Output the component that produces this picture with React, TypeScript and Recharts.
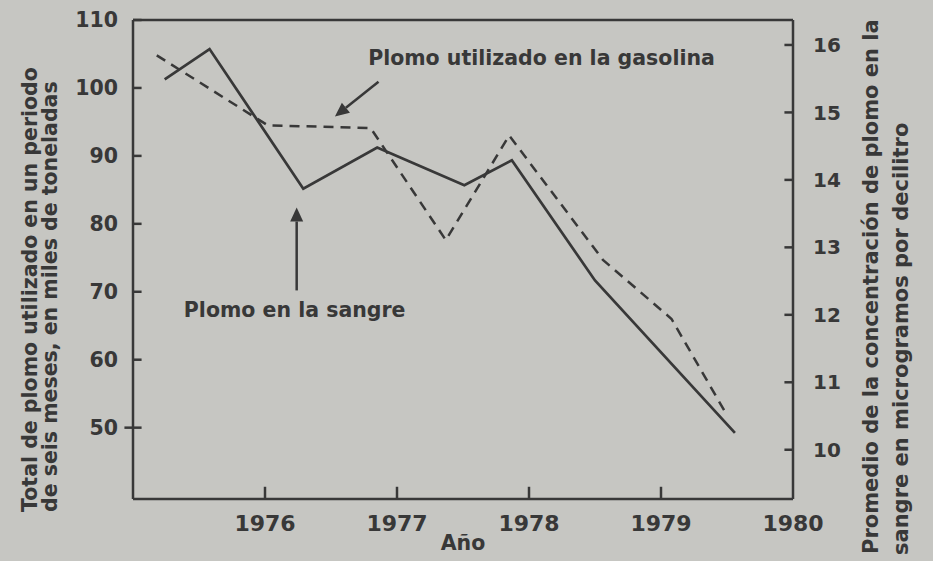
import { LineChart, Line, XAxis, YAxis, ReferenceLine } from "recharts";

// solid line: blood lead (right axis), dashed: lead in gasoline (left axis)
const bloodYears = [1975.24, 1975.58, 1976.29, 1976.85, 1977.51, 1977.87, 1978.5, 1979.56];
const bloodLevels = [15.49, 15.94, 13.87, 14.48, 13.92, 14.29, 12.51, 10.25];
const gasYears = [1975.18, 1976.02, 1976.8, 1977.37, 1977.85, 1978.56, 1979.08, 1979.48];
const gasTons = [104.8, 94.5, 94.1, 77.6, 93.0, 74.7, 66.0, 52.5];

const yearTicks = [1976, 1977, 1978, 1979, 1980];
const tonTicks = [50, 60, 70, 80, 90, 100, 110];
const levelTicks = [10, 11, 12, 13, 14, 15, 16];

const X_MIN = 1975;
const X_MAX = 1980;
const TON_MIN = 39.5;
const TON_MAX = 110;

// annotation arrows: [tail, tip] in (year, tons)
const gasArrow = [
  { x: 1976.86, y: 100.9 },
  { x: 1976.53, y: 95.8 },
];
const bloodArrow = [
  { x: 1976.24, y: 70.2 },
  { x: 1976.24, y: 82.4 },
];

const bloodData = bloodYears.map((year, i) => ({ year, level: bloodLevels[i] }));
const gasData = gasYears.map((year, i) => ({ year, tons: gasTons[i] }));

const INK = "#383838";
const PAPER = "#c6c6c2";
const FONT = "'DejaVu Sans', sans-serif";

// inward tick marks, as short segments in data units
const yTickLen = 0.065; // years
const xTickLen = 1.8; // tons

const makeArrow = (text: string, dx: number, dy: number) => (props: any) => {
  const { x1, y1, x2, y2 } = props;
  const ang = Math.atan2(y2 - y1, x2 - x1);
  const len = 14;
  const half = 6.5;
  const bx = x2 - len * Math.cos(ang);
  const by = y2 - len * Math.sin(ang);
  const px = -Math.sin(ang) * half;
  const py = Math.cos(ang) * half;
  return (
    <g>
      <line x1={x1} y1={y1} x2={bx} y2={by} stroke={INK} strokeWidth={2.5} />
      <polygon
        points={`${x2},${y2} ${bx + px},${by + py} ${bx - px},${by - py}`}
        fill={INK}
      />
      <text
        x={x1 + dx}
        y={y1 + dy}
        textAnchor="middle"
        fill={INK}
        fontFamily={FONT}
        fontWeight="bold"
        fontSize={20.5}
      >
        {text}
      </text>
    </g>
  );
};

const leftTitle = () => (
  <g fill={INK} fontFamily={FONT} fontWeight="bold" fontSize={20.5}>
    <text x={37} y={512} transform="rotate(-90 37 512)" textAnchor="start">
      Total de plomo utilizado en un periodo
    </text>
    <text x={57} y={512} transform="rotate(-90 57 512)" textAnchor="start">
      de seis meses, en miles de toneladas
    </text>
  </g>
);

const rightTitle = () => (
  <g fill={INK} fontFamily={FONT} fontWeight="bold" fontSize={21}>
    <text x={878} y={554} transform="rotate(-90 878 554)" textAnchor="start">
      Promedio de la concentración de plomo en la
    </text>
    <text x={908} y={555} transform="rotate(-90 908 555)" textAnchor="start">
      sangre en microgramos por decilitro
    </text>
  </g>
);

const xTitle = (props: any) => {
  const { viewBox } = props;
  return (
    <text
      x={viewBox.x + viewBox.width / 2}
      y={550}
      textAnchor="middle"
      fill={INK}
      fontFamily={FONT}
      fontWeight="bold"
      fontSize={20.5}
    >
      Año
    </text>
  );
};

export default function App() {
  return (
    <div
      style={{
        position: "absolute",
        left: 0,
        top: 0,
        width: 933,
        height: 561,
        background: PAPER,
      }}
    >
      <LineChart
        width={933}
        height={561}
        margin={{ top: 20, right: 0, left: 0, bottom: 0 }}
      >
        <XAxis
          dataKey="year"
          type="number"
          domain={[X_MIN, X_MAX]}
          ticks={yearTicks}
          allowDataOverflow
          height={62}
          stroke={INK}
          strokeWidth={2.5}
          tickLine={false}
          tickMargin={10}
          tick={{ fill: INK, fontFamily: FONT, fontWeight: "bold", fontSize: 22 }}
          label={{ content: xTitle }}
        />
        <YAxis
          yAxisId="left"
          orientation="left"
          type="number"
          domain={[TON_MIN, TON_MAX]}
          ticks={tonTicks}
          allowDataOverflow
          width={133}
          stroke={INK}
          strokeWidth={2.5}
          tickLine={false}
          tickMargin={9}
          tick={{ fill: INK, fontFamily: FONT, fontWeight: "bold", fontSize: 20.5 }}
          label={{ content: leftTitle }}
        />
        <YAxis
          yAxisId="right"
          orientation="right"
          type="number"
          domain={[9.27, 16.37]}
          ticks={levelTicks}
          allowDataOverflow
          width={140}
          stroke={INK}
          strokeWidth={2.5}
          tickLine={false}
          tickMargin={14}
          tick={{ fill: INK, fontFamily: FONT, fontWeight: "bold", fontSize: 20 }}
          label={{ content: rightTitle }}
        />
        <ReferenceLine yAxisId="left" y={TON_MAX} stroke={INK} strokeWidth={2.5} />
        {tonTicks.map((v) => (
          <ReferenceLine
            key={`l${v}`}
            yAxisId="left"
            ifOverflow="visible"
            segment={[
              { x: v === 50 ? X_MIN - yTickLen : X_MIN, y: v },
              { x: X_MIN + yTickLen, y: v },
            ]}
            stroke={INK}
            strokeWidth={2.5}
          />
        ))}
        {levelTicks.map((v) => (
          <ReferenceLine
            key={`r${v}`}
            yAxisId="right"
            ifOverflow="visible"
            segment={[
              { x: X_MAX - yTickLen, y: v },
              { x: X_MAX, y: v },
            ]}
            stroke={INK}
            strokeWidth={2.5}
          />
        ))}
        {yearTicks
          .filter((t) => t < X_MAX)
          .map((t) => (
            <ReferenceLine
              key={`x${t}`}
              yAxisId="left"
              ifOverflow="visible"
              segment={[
                { x: t, y: TON_MIN },
                { x: t, y: TON_MIN + xTickLen },
              ]}
              stroke={INK}
              strokeWidth={2.5}
            />
          ))}
        <Line
          yAxisId="left"
          data={gasData}
          dataKey="tons"
          type="linear"
          stroke={INK}
          strokeWidth={2.5}
          strokeDasharray="10 7"
          dot={false}
          activeDot={false}
          isAnimationActive={false}
        />
        <Line
          yAxisId="right"
          data={bloodData}
          dataKey="level"
          type="linear"
          stroke={INK}
          strokeWidth={2.7}
          dot={false}
          activeDot={false}
          isAnimationActive={false}
        />
        <ReferenceLine
          yAxisId="left"
          segment={gasArrow}
          shape={makeArrow("Plomo utilizado en la gasolina", 163, -17)}
        />
        <ReferenceLine
          yAxisId="left"
          segment={bloodArrow}
          shape={makeArrow("Plomo en la sangre", -2, 27)}
        />
      </LineChart>
    </div>
  );
}
